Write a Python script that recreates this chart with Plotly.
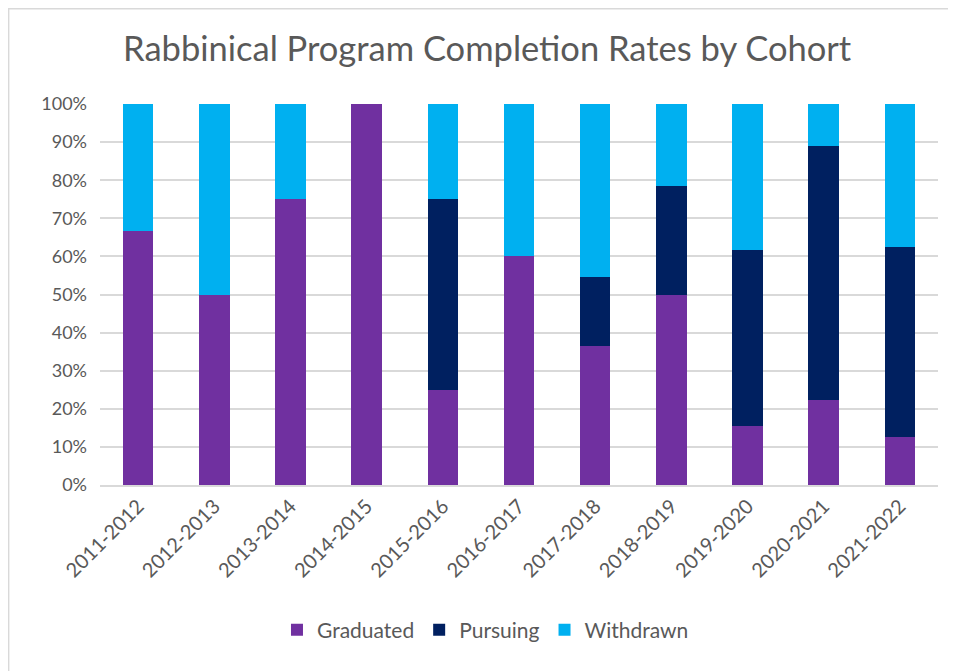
import plotly.graph_objects as go

cohorts = ["2011-2012", "2012-2013", "2013-2014", "2014-2015", "2015-2016", "2016-2017",
           "2017-2018", "2018-2019", "2019-2020", "2020-2021", "2021-2022"]
graduated = [0.667, 0.50, 0.75, 1.00, 0.25, 0.60, 0.364, 0.50, 0.154, 0.222, 0.125]
pursuing = [0.0, 0.0, 0.0, 0.0, 0.50, 0.0, 0.182, 0.286, 0.462, 0.667, 0.50]
withdrawn = [0.333, 0.50, 0.25, 0.0, 0.25, 0.40, 0.454, 0.214, 0.384, 0.111, 0.375]

FONT = "Lato"
TXT = "#595959"

fig = go.Figure()
for name, vals, col in [("Graduated", graduated, "#7030A0"),
                        ("Pursuing", pursuing, "#002060"),
                        ("Withdrawn", withdrawn, "#00B0F0")]:
    fig.add_trace(go.Bar(x=cohorts, y=vals, name=name, marker_color=col,
                         marker_line_width=0))

# page has an 8px body margin, so the figure is a bit smaller than the window
fig.update_layout(
    barmode="stack",
    bargap=0.6,
    width=948, height=663,
    margin=dict(l=92, r=18, t=96, b=186),
    paper_bgcolor="white", plot_bgcolor="white",
    font=dict(family=FONT, color=TXT, size=18),
    title=dict(text="Rabbinical Program Completion Rates by Cohort",
               xref="paper", x=0.462, xanchor="center", y=0.938, yanchor="middle",
               font=dict(size=34.5, color=TXT, family=FONT)),
    legend=dict(orientation="h", x=0.46, xanchor="center", y=-0.381, yanchor="middle",
                font=dict(size=21, color=TXT), traceorder="normal",
                itemwidth=30),
    showlegend=True,
)
fig.update_xaxes(tickangle=-45, showgrid=False, showline=True, linecolor="#D9D9D9",
                 linewidth=1.5, tickfont=dict(size=20), ticks="")
fig.update_yaxes(range=[0, 1.0], dtick=0.1, tickformat=".0%", showgrid=True,
                 gridcolor="#D9D9D9", gridwidth=1.5, zeroline=False,
                 tickfont=dict(size=18), ticks="", ticklabelstandoff=12)

fig.add_shape(type="rect", xref="paper", yref="paper",
              x0=-0.109, x1=1.1, y0=-0.6, y1=1.25,
              line=dict(color="#D9D9D9", width=1.5), fillcolor="rgba(0,0,0,0)", layer="below")

fig.write_html("out.html")
